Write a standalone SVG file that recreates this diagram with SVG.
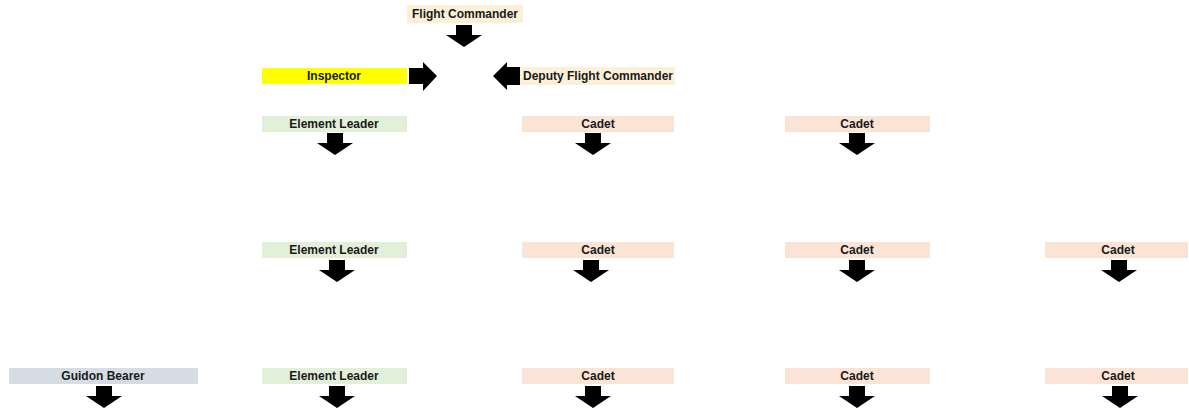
<svg xmlns="http://www.w3.org/2000/svg" xmlns:xlink="http://www.w3.org/1999/xlink" width="1189" height="411" viewBox="0 0 1189 411">
  <style>
    text { font-family: "Liberation Sans", Arial, sans-serif; font-weight: bold; font-size: 12px; fill: #1a1a1a; text-anchor: middle; }
    .cmd { fill: #fdf0d9; }
    .insp { fill: #ffff00; }
    .lead { fill: #e2efd9; }
    .cadet { fill: #fbe4d5; }
    .guidon { fill: #d5dce4; }
    .arrow { fill: #000000; }
  </style>
  <defs>
    <!-- block arrow pointing down, origin at top centre -->
    <path id="down" class="arrow" d="M-8,0 H8 V10 H18 L0,22 L-18,10 H-8 Z"/>
  </defs>
  <rect width="1189" height="411" fill="#ffffff"/>

  <g id="flight-commander">
    <rect class="cmd" x="407" y="5" width="116" height="18"/>
    <text x="465" y="18">Flight Commander</text>
  </g>
  <g id="inspector">
    <rect class="insp" x="262" y="68" width="145" height="16"/>
    <text x="334" y="80">Inspector</text>
  </g>
  <g id="deputy-flight-commander">
    <rect class="cmd" x="520" y="67" width="155" height="18"/>
    <text x="598" y="80">Deputy Flight Commander</text>
  </g>

  <!-- row 1 -->
  <g id="element-leader-1">
    <rect class="lead" x="262" y="116" width="145" height="16"/>
    <text x="334" y="128">Element Leader</text>
  </g>
  <g id="cadet-1a">
    <rect class="cadet" x="522" y="116" width="152" height="16"/>
    <text x="598" y="128">Cadet</text>
  </g>
  <g id="cadet-1b">
    <rect class="cadet" x="785" y="116" width="145" height="16"/>
    <text x="857" y="128">Cadet</text>
  </g>

  <!-- row 2 -->
  <g id="element-leader-2">
    <rect class="lead" x="262" y="242" width="145" height="16"/>
    <text x="334" y="254">Element Leader</text>
  </g>
  <g id="cadet-2a">
    <rect class="cadet" x="522" y="242" width="152" height="16"/>
    <text x="598" y="254">Cadet</text>
  </g>
  <g id="cadet-2b">
    <rect class="cadet" x="785" y="242" width="145" height="16"/>
    <text x="857" y="254">Cadet</text>
  </g>
  <g id="cadet-2c">
    <rect class="cadet" x="1045" y="242" width="143" height="16"/>
    <text x="1118" y="254">Cadet</text>
  </g>

  <!-- row 3 -->
  <g id="guidon-bearer">
    <rect class="guidon" x="9" y="368" width="189" height="16"/>
    <text x="103" y="380">Guidon Bearer</text>
  </g>
  <g id="element-leader-3">
    <rect class="lead" x="262" y="368" width="145" height="16"/>
    <text x="334" y="380">Element Leader</text>
  </g>
  <g id="cadet-3a">
    <rect class="cadet" x="522" y="368" width="152" height="16"/>
    <text x="598" y="380">Cadet</text>
  </g>
  <g id="cadet-3b">
    <rect class="cadet" x="785" y="368" width="145" height="16"/>
    <text x="857" y="380">Cadet</text>
  </g>
  <g id="cadet-3c">
    <rect class="cadet" x="1045" y="368" width="143" height="16"/>
    <text x="1118" y="380">Cadet</text>
  </g>

  <g id="connectors">
    <use xlink:href="#down" href="#down" x="464" y="25"/>
    <path class="arrow" d="M409,68 H423 V62 L437,76 L423,91 V84 H409 Z"/>
    <path class="arrow" d="M520,67 H507 V62 L493,76 L507,90 V85 H520 Z"/>

    <use xlink:href="#down" href="#down" x="335" y="133"/>
    <use xlink:href="#down" href="#down" x="593" y="133"/>
    <use xlink:href="#down" href="#down" x="857" y="133"/>

    <use xlink:href="#down" href="#down" x="337" y="260"/>
    <use xlink:href="#down" href="#down" x="591" y="260"/>
    <use xlink:href="#down" href="#down" x="857" y="260"/>
    <use xlink:href="#down" href="#down" x="1119" y="260"/>

    <use xlink:href="#down" href="#down" x="104" y="386"/>
    <use xlink:href="#down" href="#down" x="337" y="386"/>
    <use xlink:href="#down" href="#down" x="593" y="386"/>
    <use xlink:href="#down" href="#down" x="857" y="386"/>
    <use xlink:href="#down" href="#down" x="1120" y="386"/>
  </g>
</svg>
